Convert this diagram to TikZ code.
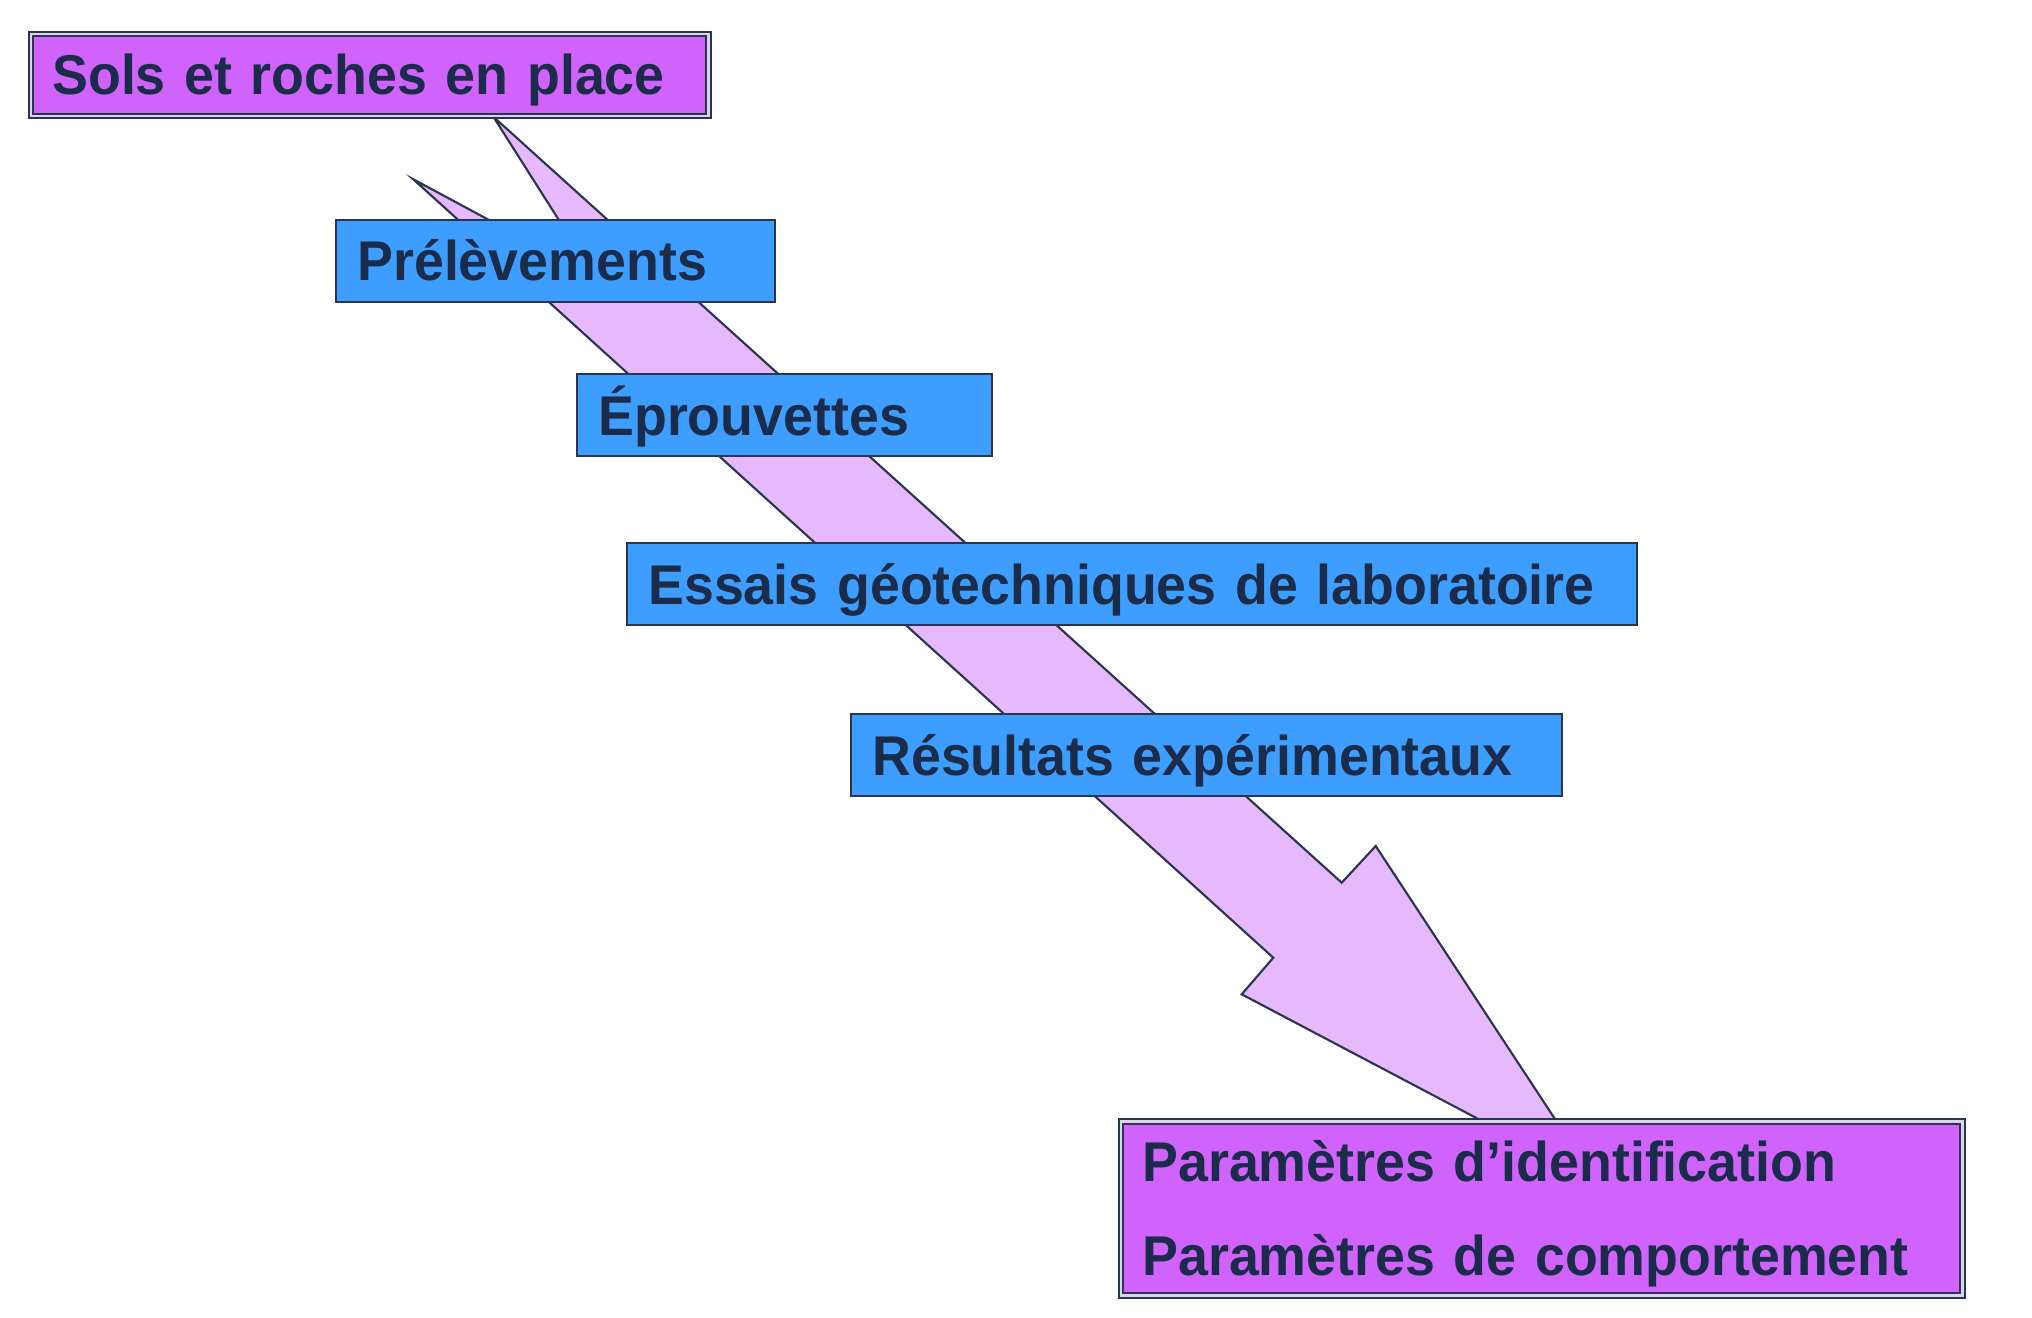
\documentclass[tikz,border=0pt]{standalone}
\usepackage{fontspec}
\setmainfont{Liberation Sans}
\newfontfamily\stagefont{Liberation Sans}[FakeStretch=0.96]
\usepackage{tikz}

\definecolor{ink}{HTML}{1B2B4A}
\definecolor{edgeblue}{HTML}{2B3550}
\definecolor{stageblue}{HTML}{3D9EFF}
\definecolor{endmagenta}{HTML}{CF63FB}
\definecolor{gapgrey}{HTML}{DCD4EC}
\definecolor{flowpink}{HTML}{E6B9FC}

\tikzset{
	stage/.style={draw=edgeblue, fill=stageblue, line width=0.75pt, anchor=north west,
		outer sep=0pt, inner xsep=8pt, inner ysep=0pt, minimum height=30.75pt,
		text height=15pt, text depth=0pt, align=left, text=ink,
		font=\stagefont\fontsize{21}{35}\selectfont\bfseries},
	endbox/.style={stage, fill=endmagenta, double=gapgrey, double distance=1.1pt, line width=0.75pt},
	flow/.style={draw=edgeblue, fill=flowpink, line width=0.8pt, line join=miter}
}

\begin{document}
\begin{tikzpicture}[x=0.375pt, y=-0.375pt]
		\useasboundingbox[fill=white] (0, 0) rectangle (2032, 1318);
		% notched arrow behind the boxes
		\filldraw[flow] (413.3, 179.3) -- (1273.3, 957.7) -- (1241.7, 994.3) -- (1595.5, 1180.8)
			-- (1375.7, 846) -- (1341.7, 882.7) -- (493.3, 116.7) -- (595, 277) -- cycle;
		\node[endbox, text width=238pt] (sols) at (31, 34) {Sols et roches en place};
		\foreach \name/\x/\y/\w/\txt in {pre/336/220/148.6pt/Prélèvements, epr/577/374/139.8pt/Éprouvettes,
				ess/627/543/362.6pt/Essais géotechniques de laboratoire, res/851/714/250.8pt/Résultats expérimentaux}
			\node[stage, text width=\w] (\name) at (\x, \y) {\txt};
		\node[endbox, text width=299.6pt, minimum height=65.25pt, text depth=35pt] (par) at (1121, 1121.5)
			{Paramètres d’identification\\Paramètres de comportement};
	\end{tikzpicture}
\end{document}
